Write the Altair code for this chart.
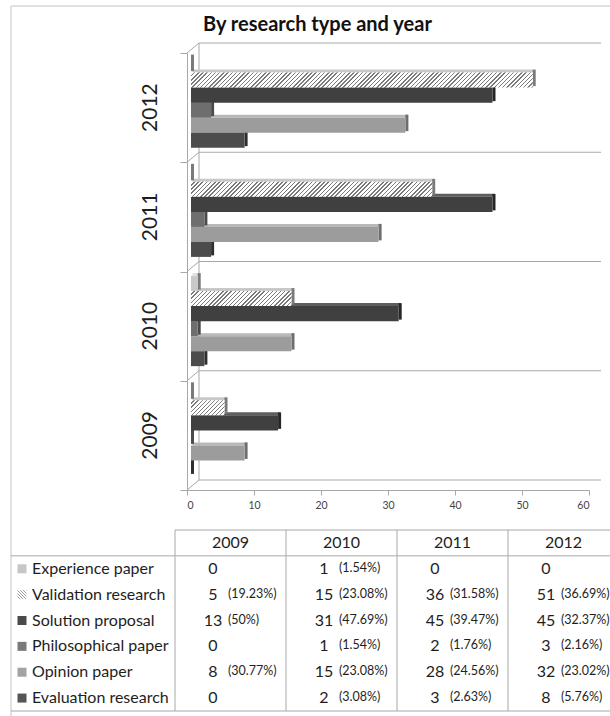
import altair as alt
import pandas as pd

# ---- data -------------------------------------------------------------
title = "By research type and year"
years = ["2012", "2011", "2010", "2009"]          # chart order, top to bottom
table_years = ["2009", "2010", "2011", "2012"]    # table order, left to right
series = ["Experience paper", "Validation research", "Solution proposal",
          "Philosophical paper", "Opinion paper", "Evaluation research"]

# paper counts per research type, in table_years order
experience = [0, 1, 0, 0]
validation = [5, 15, 36, 51]
solution = [13, 31, 45, 45]
philosophical = [0, 1, 2, 3]
opinion = [8, 15, 28, 32]
evaluation = [0, 2, 3, 8]

# share of the year's papers, in table_years order
experience_pct = ["", "(1.54%)", "", ""]
validation_pct = ["(19.23%)", "(23.08%)", "(31.58%)", "(36.69%)"]
solution_pct = ["(50%)", "(47.69%)", "(39.47%)", "(32.37%)"]
philosophical_pct = ["", "(1.54%)", "(1.76%)", "(2.16%)"]
opinion_pct = ["(30.77%)", "(23.08%)", "(24.56%)", "(23.02%)"]
evaluation_pct = ["", "(3.08%)", "(2.63%)", "(5.76%)"]

x_ticks = [0, 10, 20, 30, 40, 50, 60]

counts = [experience, validation, solution, philosophical, opinion, evaluation]
pcts = [experience_pct, validation_pct, solution_pct, philosophical_pct,
        opinion_pct, evaluation_pct]

rows = []
for si in reversed(range(len(series))):          # lower bars first
    for ci, yr in enumerate(table_years):
        rows.append({
            "series": series[si], "si": si, "year": yr,
            "yi": years.index(yr), "col": ci, "row": si + 1,
            "value": counts[si][ci], "pct": pcts[si][ci],
        })
df = pd.DataFrame(rows)

# ---- layout / style ---------------------------------------------------
W, H = 402, 437
PAD = {"left": 187, "top": 53, "right": 21, "bottom": 226}
X_MAX = x_ticks[-1]
N_YEARS = len(years)
P = 0.64                      # outer padding of a year group, in bar units
N = len(series) + 2 * P
BAR_H = H / N_YEARS / N
PX_PER_UNIT = W / X_MAX

FONT = "Lato"
LINE = "#a8a8a8"
TEXT = "#1e1e1e"

front_colors = ["#c8c8c8", "#ffffff", "#404040", "#6e6e6e", "#9c9c9c", "#4c4c4c"]
top_colors = ["#dedede", "#c8c8c8", "#5e5e5e", "#8c8c8c", "#b8b8b8", "#6a6a6a"]
side_colors = ["#7a7a7a", "#7a7a7a", "#262626", "#4a4a4a", "#6e6e6e", "#2e2e2e"]
swatch_colors = ["#c6c6c6", "#ffffff", "#4a4a4a", "#7a7a7a", "#a3a3a3", "#555555"]

# depth of the 3-D look
DX, DY = 4, -5          # bars sit half way into the box
BACK_DX, BACK_DY = 12, -10
FACE = 3

x_scale = alt.Scale(domain=[0, X_MAX], range=[0, W], nice=False, zero=True)
y_scale = alt.Scale(domain=[0, N_YEARS], range=[0, H], nice=False, zero=False)


def bx(field, axis=None):
    return alt.X(field, scale=x_scale, axis=axis)


def by(field, axis=None):
    return alt.Y(field, scale=y_scale, axis=axis)


def hatch(width, height, period, light, dark, share=0.42, back=False):
    """Linear gradient with hard stops, drawn as 45 degree stripes."""
    n = max(1, round((width + height) / period))
    stops = []
    for i in range(n):
        a, b, e = i / n, (i + 1 - share) / n, (i + 1) / n
        stops += [{"offset": round(a, 5), "color": light},
                  {"offset": round(b, 5), "color": light},
                  {"offset": round(b, 5), "color": dark},
                  {"offset": round(e, 5), "color": dark}]
    if back:
        return {"gradient": "linear", "stops": stops, "x1": 0, "y1": 1, "x2": 1, "y2": 0}
    c = (width + height) / (width ** 2 + height ** 2)
    return {"gradient": "linear", "stops": stops,
            "x1": 0, "y1": 0, "x2": round(c * width, 6), "y2": round(c * height, 6)}


bars = alt.Chart(df).transform_calculate(
    zero="0",
    y0=f"datum.yi + ({P} + datum.si) / {N}",
    y1=f"datum.yi + ({P} + datum.si + 1) / {N}",
)

# frame of the 3-D box: one row per year boundary
frame = alt.Chart(pd.DataFrame({"b": list(range(N_YEARS + 1))})).transform_calculate(
    zero="0", xmax=str(X_MAX), ybot=str(N_YEARS)
)

back_lines = frame.mark_rule(
    color=LINE, strokeWidth=1, xOffset=BACK_DX, x2Offset=BACK_DX, yOffset=BACK_DY
).encode(x=bx("zero:Q"), x2=alt.X2("xmax:Q"), y=by("b:Q"))

diagonals = frame.mark_rule(
    color=LINE, strokeWidth=1, x2Offset=BACK_DX, y2Offset=BACK_DY
).encode(x=bx("zero:Q"), x2=alt.X2("zero:Q"), y=by("b:Q"), y2=alt.Y2("b:Q"))

back_wall = frame.transform_filter("datum.b == 0").mark_rule(
    color=LINE, strokeWidth=1, xOffset=BACK_DX, yOffset=BACK_DY, y2Offset=BACK_DY
).encode(x=bx("zero:Q"), y=by("b:Q"), y2=alt.Y2("ybot:Q"))

y_axis = frame.mark_rule(opacity=0).encode(
    y=by("b:Q", axis=alt.Axis(
        values=list(range(N_YEARS + 1)), title=None, grid=False, labels=False,
        tickSize=7, domainColor=LINE, tickColor=LINE)),
    x=bx("zero:Q"), x2=alt.X2("zero:Q"),
)

x_axis = alt.Chart(pd.DataFrame({"t": x_ticks})).transform_calculate(
    ybot=str(N_YEARS)
).mark_rule(opacity=0).encode(
    x=bx("t:Q", axis=alt.Axis(
        values=x_ticks, title=None, grid=False, tickSize=5, labelPadding=5,
        labelFont=FONT, labelFontSize=10.5, labelColor="#444",
        domainColor=LINE, tickColor=LINE)),
    y=by("ybot:Q"), y2=alt.Y2("ybot:Q"),
)

top_faces = bars.mark_rect(
    xOffset=DX + FACE / 2, x2Offset=DX + FACE / 2, yOffset=DY - FACE, y2Offset=DY
).encode(
    x=bx("zero:Q"), x2=alt.X2("value:Q"), y=by("y0:Q"), y2=alt.Y2("y0:Q"),
    color=alt.Color("series:N", scale=alt.Scale(domain=series, range=top_colors), legend=None),
)

side_faces = bars.mark_rect(
    xOffset=DX, x2Offset=DX + FACE, yOffset=DY - FACE, y2Offset=DY - FACE / 2
).encode(
    x=bx("value:Q"), x2=alt.X2("value:Q"), y=by("y0:Q"), y2=alt.Y2("y1:Q"),
    color=alt.Color("series:N", scale=alt.Scale(domain=series, range=side_colors), legend=None),
)

front_faces = bars.transform_filter("datum.si != 1").mark_rect(
    xOffset=DX, x2Offset=DX, yOffset=DY, y2Offset=DY
).encode(
    x=bx("zero:Q"), x2=alt.X2("value:Q"), y=by("y0:Q"), y2=alt.Y2("y1:Q"),
    color=alt.Color("series:N", scale=alt.Scale(domain=series, range=front_colors), legend=None),
)

# hatched validation bars, one layer per year so each stripe pattern fits its bar
hatched = []
for ci, yr in enumerate(table_years):
    v = validation[ci]
    if v <= 0:
        continue
    fill = hatch(v * PX_PER_UNIT, BAR_H, 4.2, "#ffffff", "#7a7a7a", share=0.36)
    hatched.append(
        bars.transform_filter(f"datum.si == 1 && datum.year == '{yr}'")
        .mark_rect(fill=fill, xOffset=DX, x2Offset=DX, yOffset=DY, y2Offset=DY)
        .encode(x=bx("zero:Q"), x2=alt.X2("value:Q"), y=by("y0:Q"), y2=alt.Y2("y1:Q"))
    )

year_labels = alt.Chart(pd.DataFrame({"year": years})).transform_window(
    yi="row_number()"
).transform_calculate(yc="datum.yi - 0.5").mark_text(
    angle=270, font=FONT, fontSize=21, color=TEXT, align="center", baseline="middle"
).encode(x=alt.value(-36), y=by("yc:Q"), text="year:N")

# chart heading, set over the left part of the plot
heading = alt.Chart(pd.DataFrame({"title": [title]})).mark_text(
    font=FONT, fontSize=20, fontWeight="bold", color="#111", align="left", baseline="middle"
).encode(x=alt.value(16), y=alt.value(-28), text="title:N")

# ---- data table below the plot -----------------------------------------
TL, TR = 175 - PAD["left"], 619 - PAD["left"]
TT, TB = 530 - PAD["top"], 711 - PAD["top"]
n_rows = len(series) + 1
n_cols = len(table_years)
tx_scale = alt.Scale(domain=[0, n_cols], range=[TL, TR], nice=False, zero=False)
ty_scale = alt.Scale(domain=[0, n_rows], range=[TT, TB], nice=False, zero=False)


def tx(field):
    return alt.X(field, scale=tx_scale, axis=None)


def ty(field):
    return alt.Y(field, scale=ty_scale, axis=None)


LEFT_EDGE = 11 - PAD["left"]
FAR_RIGHT = 700

cols = alt.Chart(pd.DataFrame({"c": list(range(n_cols))})).transform_calculate(
    top="0", bottom=str(n_rows), right=str(n_cols)
)
v_lines = cols.mark_rule(color=LINE).encode(
    x=tx("c:Q"), y=ty("top:Q"), y2=alt.Y2("bottom:Q"))
head_top = cols.transform_filter("datum.c == 0").mark_rule(color=LINE).encode(
    x=tx("c:Q"), x2=alt.X2("right:Q"), y=ty("top:Q"))
h_lines = alt.Chart(pd.DataFrame({"r": [1, n_rows]})).mark_rule(color=LINE).encode(
    x=alt.value(LEFT_EDGE), x2=alt.value(FAR_RIGHT), y=ty("r:Q"))

header = alt.Chart(pd.DataFrame({"year": table_years})).transform_window(
    c="row_number()"
).transform_calculate(xc="datum.c - 0.5", yc="0.5").mark_text(
    font=FONT, fontSize=16, color=TEXT, align="center", baseline="middle"
).encode(x=tx("xc:Q"), y=ty("yc:Q"), text="year:N")

cells = alt.Chart(df).transform_calculate(yc="datum.row + 0.5")
numbers = cells.mark_text(
    font=FONT, fontSize=16, color=TEXT, align="center", baseline="middle", dx=38
).encode(x=tx("col:Q"), y=ty("yc:Q"), text="value:Q")
shares = cells.mark_text(
    font=FONT, fontSize=12.5, color=TEXT, align="left", baseline="middle", dx=53, dy=-1
).encode(x=tx("col:Q"), y=ty("yc:Q"), text="pct:N")

labels_src = alt.Chart(pd.DataFrame({"series": series})).transform_window(
    r="row_number()"
).transform_calculate(yc="datum.r + 0.5")
row_labels = labels_src.mark_text(
    font=FONT, fontSize=16, color=TEXT, align="left", baseline="middle"
).encode(x=alt.value(32 - PAD["left"]), y=ty("yc:Q"), text="series:N")
swatches = labels_src.transform_filter("datum.r != 2").mark_square(
    size=81, opacity=1
).encode(
    x=alt.value(22 - PAD["left"]), y=ty("yc:Q"),
    color=alt.Color("series:N", scale=alt.Scale(domain=series, range=swatch_colors), legend=None),
)
hatch_swatch = labels_src.transform_filter("datum.r == 2").mark_square(
    size=81, opacity=1, fill=hatch(9, 9, 3.0, "#ffffff", "#9a9a9a", back=True)
).encode(x=alt.value(22 - PAD["left"]), y=ty("yc:Q"))

# outer border of the whole figure
border = alt.Chart(pd.DataFrame({"k": [0]})).mark_rect(
    fillOpacity=0, stroke="#c4c4c4", strokeWidth=1
).encode(
    x=alt.value(LEFT_EDGE), x2=alt.value(FAR_RIGHT),
    y=alt.value(6 - PAD["top"]), y2=alt.value(FAR_RIGHT + 20),
)

chart = alt.layer(
    border, heading, back_lines, diagonals, back_wall, x_axis, y_axis,
    top_faces, side_faces, front_faces, *hatched, year_labels,
    v_lines, head_top, h_lines, header, numbers, shares, row_labels, swatches, hatch_swatch,
).resolve_scale(
    x="independent", y="independent", color="independent"
).properties(
    width=W, height=H, padding=PAD,
    autosize=alt.AutoSizeParams(type="none"),
    background="white",
).configure_view(stroke=None)

chart.save("out.html", embed_options={"renderer": "svg", "actions": False})
